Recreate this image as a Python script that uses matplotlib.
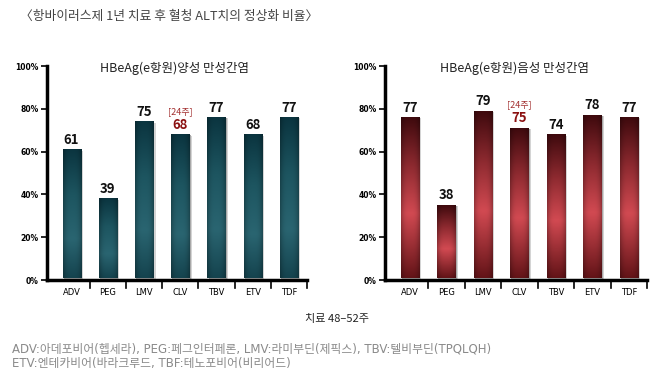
import matplotlib
matplotlib.use("Agg")
import matplotlib.pyplot as plt
import numpy as np
from matplotlib.colors import LinearSegmentedColormap
from matplotlib.patches import Rectangle

plt.rcParams['font.family'] = ['Noto Sans CJK KR', 'DejaVu Sans']

categories = ["ADV", "PEG", "LMV", "CLV", "TBV", "ETV", "TDF"]
pos_bars = [60, 37, 73, 67, 75, 67, 75]
pos_labels = ["61", "39", "75", "68", "77", "68", "77"]
neg_bars = [75, 34, 78, 70, 67, 76, 75]
neg_labels = ["77", "38", "79", "75", "74", "78", "77"]
yticks = [0, 20, 40, 60, 80, 100]
ytick_labels = ["0%", "20%", "40%", "60%", "80%", "100%"]
highlight = "CLV"
highlight_note = "[24주]"

main_title = "〈항바이러스제 1년 치료 후 혈청 ALT치의 정상화 비율〉"
title_pos = "HBeAg(e항원)양성 만성간염"
title_neg = "HBeAg(e항원)음성 만성간염"
xlabel = "치료 48–52주"
foot1 = "ADV:아데포비어(헵세라), PEG:페그인터페론, LMV:라미부딘(제픽스), TBV:텔비부딘(TPQLQH)"
foot2 = "ETV:엔테카비어(바라크루드, TBF:테노포비어(비리어드)"

teal = LinearSegmentedColormap.from_list("teal", [(0, "#0b3540"), (0.35, "#1d5560"), (0.7, "#2a6571"), (1, "#15444f")])
red = LinearSegmentedColormap.from_list("red", [(0, "#400a0e"), (0.3, "#8e2a30"), (0.6, "#d24a52"), (1, "#641418")])

fig = plt.figure(figsize=(6.61, 3.71), dpi=100)


def draw_panel(rect, values, labels, cmap, title, title_x):
    ax = fig.add_axes(rect)
    x = np.arange(len(categories))
    bars = ax.bar(x, values, width=0.5, bottom=0.8, color="none", zorder=3)
    grad = np.linspace(0, 1, 100).reshape(-1, 1)
    horiz = 1 - 0.25 * np.abs(np.linspace(-1, 1, 20)) ** 3
    for b in bars:
        x0, y0 = b.get_x(), b.get_y()
        w, h = b.get_width(), b.get_height()
        # shadow
        ax.add_patch(Rectangle((x0 + 0.07, y0 - 0.3), w, h, color="#d4d4d4", zorder=2, lw=0))
        ax.add_patch(Rectangle((x0 + 0.035, y0 - 0.15), w, h, color="#a8a8a8", zorder=2, lw=0))
        rgba = cmap(grad)[:, :, :3] * horiz[None, :, None]
        ax.imshow(rgba, extent=(x0, x0 + w, y0, y0 + h), origin="upper",
                  aspect="auto", zorder=3, interpolation="bilinear")
    for i, (b, lab) in enumerate(zip(bars, labels)):
        top = b.get_y() + b.get_height()
        if categories[i] == highlight:
            ax.text(b.get_x() + b.get_width() / 2, top + 1.5, lab, ha="center", va="bottom",
                    fontsize=9.5, fontweight="bold", color="#8b1111", zorder=5)
            ax.text(b.get_x() + b.get_width() / 2, top + 9, highlight_note, ha="center", va="bottom",
                    fontsize=6.5, color="#a33030", zorder=5)
        else:
            ax.text(b.get_x() + b.get_width() / 2, top + 1.5, lab, ha="center", va="bottom",
                    fontsize=9.5, fontweight="bold", color="#111111", zorder=5)
    ax.set_xlim(-0.68, 6.5)
    ax.set_ylim(0, 100)
    ax.set_yticks(yticks)
    ax.set_yticklabels(ytick_labels, fontsize=5.5, fontweight="bold", family="DejaVu Sans")
    ax.set_xticks(x)
    ax.set_xticklabels(categories, fontsize=6, family="DejaVu Sans")
    ax.tick_params(axis="x", length=0, pad=6)
    ax.tick_params(axis="y", length=4, width=1.2, pad=2)
    for bx in x + 0.5:
        ax.plot([bx, bx], [0, -3.8], color="black", lw=1.2, clip_on=False, zorder=5)
    for s in ["top", "right"]:
        ax.spines[s].set_visible(False)
    ax.spines["left"].set_linewidth(2.5)
    ax.spines["bottom"].set_linewidth(2.5)
    ax.spines["left"].set_zorder(6)
    ax.spines["bottom"].set_zorder(6)
    fig.text(title_x, 1 - 68 / 371, title, ha="center", va="center", fontsize=9, color="#222222")
    return ax


draw_panel([47 / 661, 1 - 280 / 371, 260 / 661, 214 / 371], pos_bars, pos_labels, teal, title_pos, 175 / 661)
draw_panel([385 / 661, 1 - 280 / 371, 262 / 661, 214 / 371], neg_bars, neg_labels, red, title_neg, 515 / 661)

fig.text(20 / 661, 1 - 16 / 371, main_title, ha="left", va="center", fontsize=9.2, color="#444444")
fig.text(337 / 661, 1 - 319 / 371, xlabel, ha="center", va="center", fontsize=8, color="#222222")
fig.text(12 / 661, 1 - 349 / 371, foot1, ha="left", va="center", fontsize=8.5, color="#8a8a8a",
         family=['DejaVu Sans', 'Noto Sans CJK KR'])
fig.text(12 / 661, 1 - 364 / 371, foot2, ha="left", va="center", fontsize=8.5, color="#8a8a8a",
         family=['DejaVu Sans', 'Noto Sans CJK KR'])

fig.savefig("out.png", dpi=100)
